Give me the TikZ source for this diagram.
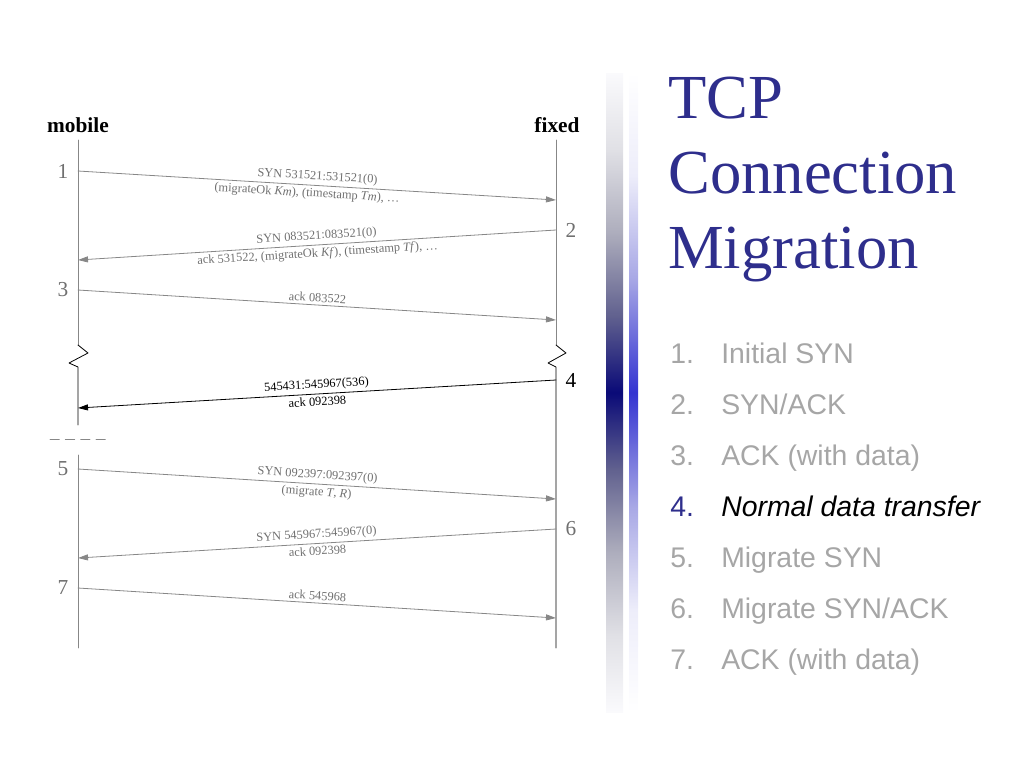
\documentclass[tikz,border=0pt]{standalone}
\usepackage{fontspec}
\setmainfont{Liberation Serif}
\newfontfamily\listfont{Liberation Sans}
\usetikzlibrary{arrows.meta,positioning}

\definecolor{titleblue}{RGB}{46,46,140}
\definecolor{listgray}{RGB}{166,166,166}
\definecolor{msggray}{RGB}{112,112,112}
\definecolor{linegray}{RGB}{135,135,135}
\pgfdeclareverticalshading{barnavy}{100bp}{rgb(0bp)=(1,1,1); rgb(25bp)=(0.98,0.98,0.99);
  rgb(31bp)=(0.88,0.88,0.9); rgb(37.5bp)=(0.68,0.68,0.74); rgb(44bp)=(0.38,0.38,0.56);
  rgb(50bp)=(0.04,0.04,0.47); rgb(56bp)=(0.38,0.38,0.56); rgb(62.5bp)=(0.68,0.68,0.74);
  rgb(69bp)=(0.88,0.88,0.9); rgb(75bp)=(0.98,0.98,0.99); rgb(100bp)=(1,1,1)}
\pgfdeclareverticalshading{barblue}{100bp}{rgb(0bp)=(1,1,1); rgb(25bp)=(1,1,1);
  rgb(33bp)=(0.93,0.93,0.98); rgb(41bp)=(0.66,0.66,0.9); rgb(50bp)=(0.2,0.2,0.82);
  rgb(59bp)=(0.66,0.66,0.9); rgb(67bp)=(0.93,0.93,0.98); rgb(75bp)=(1,1,1); rgb(100bp)=(1,1,1)}

\begin{document}
\begin{tikzpicture}[line cap=round,line join=round,>={Triangle[length=7.5pt,width=4.5pt]},x=0.75pt,y=-0.75pt,
  msg/.style={color=linegray,line width=0.6pt},
  lbl/.style={text=msggray,font=\fontsize{9.3}{10}\selectfont,inner sep=2pt},
  num/.style={text=msggray,font=\fontsize{16}{18}\selectfont,inner sep=0pt},
  head/.style={font=\fontsize{16}{18}\selectfont\bfseries,inner sep=0pt},
  titletext/.style={text=titleblue,font=\fontsize{47}{56}\selectfont,anchor=base west,inner sep=0pt},
  itemnum/.style={text=listgray,font=\listfont\fontsize{21.3}{26}\selectfont,anchor=base west,inner sep=0pt},
  itemtext/.style={text=listgray,font=\listfont\fontsize{21.3}{26}\selectfont,anchor=base west,inner sep=0pt}]

\useasboundingbox (0,0) rectangle (1024,768);

%% lifelines
\coordinate (mtop) at (78,140);
\coordinate (ftop) at (556,140);
\coordinate (mbrk) at (78,345);
\coordinate (fbrk) at (556,345);
\coordinate (mcut) at (78,425);
\coordinate (mres) at (78,455);
\coordinate (mbot) at (78,648);
\coordinate (fbot) at (556,648);

\node[head] (mob) at (78,125) {mobile};
\node[head] (fix) at (557,125) {fixed};

\draw[linegray,line width=0.6pt] (mtop)-- (mbrk);
\draw[linegray,line width=0.6pt] (ftop)-- (fbrk);
\draw[line width=0.6pt] (mbrk)-- ++(10,8)-- ++(-19,10)-- ++(9,4)-- (mcut);
\draw[line width=0.6pt] (fbrk)-- ++(10,8)-- ++(-18,10)-- ++(8,4)-- (fbot);
\draw[linegray,line width=0.6pt] (mres)-- (mbot);
\draw[linegray,line width=0.6pt,dash pattern=on 7pt off 4.5pt] (50,439)-- (107,439);

%% message end points
\coordinate (m1) at (78,171);  \coordinate (f1) at (556,200);
\coordinate (f2) at (556,230); \coordinate (m2) at (78,260);
\coordinate (m3) at (78,290);  \coordinate (f3) at (556,320);
\coordinate (f4) at (556,380); \coordinate (m4) at (78,408);
\coordinate (m5) at (78,469);  \coordinate (f5) at (556,499);
\coordinate (f6) at (556,529); \coordinate (m6) at (78,558);
\coordinate (m7) at (78,588);  \coordinate (f7) at (556,618);

\node[num,left=7pt of m1] (n1) {1};
\node[num,right=7pt of f2] (n2) {2};
\node[num,left=7pt of m3] (n3) {3};
\node[num,right=7pt of f4,text=black] (n4) {4};
\node[num,left=7pt of m5] (n5) {5};
\node[num,right=7pt of f6] (n6) {6};
\node[num,left=7pt of m7] (n7) {7};

\draw[msg,->] (m1)-- (f1) node[lbl,midway,above,sloped] {SYN 531521:531521(0)}
  node[lbl,pos=0.48,below,sloped] {(migrateOk \textit{Km}), (timestamp \textit{Tm}), \ldots};
\draw[msg,->] (f2)-- (m2) node[lbl,midway,above,sloped] {SYN 083521:083521(0)}
  node[lbl,midway,below,sloped] {ack 531522, (migrateOk \textit{Kf}), (timestamp \textit{Tf}), \ldots};
\draw[msg,->] (m3)-- (f3) node[lbl,midway,above,sloped] {ack 083522};
\draw[->,line width=0.6pt] (f4)-- (m4) node[lbl,text=black,midway,above,sloped] {545431:545967(536)}
  node[lbl,text=black,midway,below,sloped] {ack 092398};
\draw[msg,->] (m5)-- (f5) node[lbl,midway,above,sloped] {SYN 092397:092397(0)}
  node[lbl,midway,below,sloped] {(migrate \textit{T}, \textit{R})};
\draw[msg,->] (f6)-- (m6) node[lbl,midway,above,sloped] {SYN 545967:545967(0)}
  node[lbl,midway,below,sloped] {ack 092398};
\draw[msg,->] (m7)-- (f7) node[lbl,midway,above,sloped] {ack 545968};

%% side bars
\shade[shading=barnavy] (606,73) rectangle (623,712);
\shade[shading=barblue] (629,73) rectangle (638,712);

%% title
\node[titletext] (t1) at (668,118) {TCP};
\node[titletext] (t2) at (668,193) {Connection};
\node[titletext] (t3) at (668,268) {Migration};

%% steps
\node[itemnum] (i1) at (670,363) {1.};
\node[itemtext] (s1) at (721,363) {Initial SYN};
\node[itemnum] (i2) at (670,414) {2.};
\node[itemtext] (s2) at (721,414) {SYN/ACK};
\node[itemnum] (i3) at (670,465) {3.};
\node[itemtext] (s3) at (721,465) {ACK (with data)};
\node[itemnum,text=titleblue] (i4) at (670,516) {4.};
\node[itemtext,text=black] (s4) at (721,516) {\itshape Normal data transfer};
\node[itemnum] (i5) at (670,567) {5.};
\node[itemtext] (s5) at (721,567) {Migrate SYN};
\node[itemnum] (i6) at (670,618) {6.};
\node[itemtext] (s6) at (721,618) {Migrate SYN/ACK};
\node[itemnum] (i7) at (670,669) {7.};
\node[itemtext] (s7) at (721,669) {ACK (with data)};
\end{tikzpicture}
\end{document}
